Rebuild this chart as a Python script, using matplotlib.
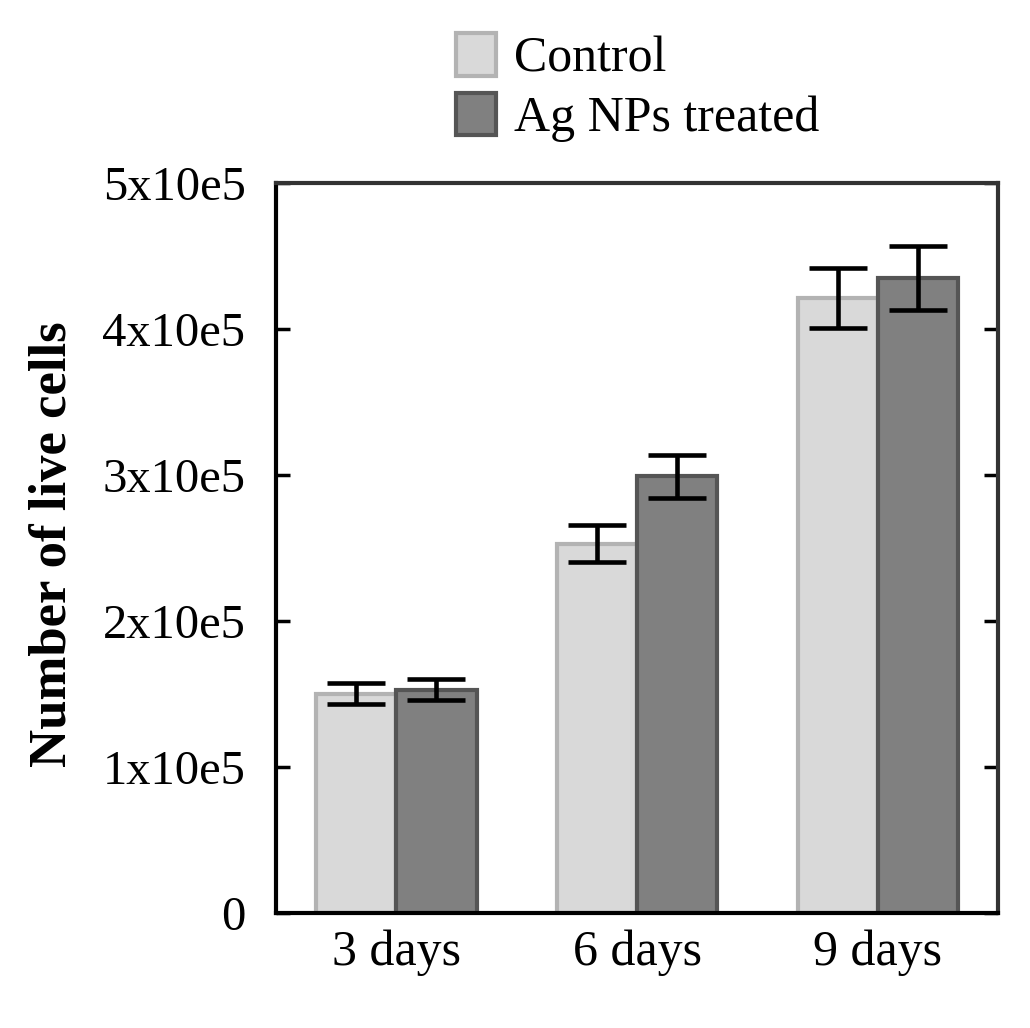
import numpy as np
import matplotlib.pyplot as plt
from matplotlib.patches import Patch

# data
days = ['3 days', '6 days', '9 days']
control = [150000, 253000, 421000]
control_err = [7200, 12700, 20500]
treated = [153000, 299000, 435000]
treated_err = [7500, 14700, 22000]
ytick_vals = [0, 100000, 200000, 300000, 400000, 500000]
ytick_labels = ['0', '1x10e5', '2x10e5', '3x10e5', '4x10e5', '5x10e5']

plt.rcParams['font.family'] = ['Liberation Serif', 'DejaVu Serif']

fig = plt.figure(figsize=(10.3, 10.28), dpi=100)
ax = fig.add_axes([0.268, 0.112, 0.701, 0.710])

x = np.arange(len(days))
w = 1 / 3

ax.bar(x - w / 2, control, w, color='#d9d9d9', edgecolor='#b3b3b3', linewidth=3, zorder=2)
ax.bar(x + w / 2, treated, w, color='#808080', edgecolor='#555555', linewidth=3, zorder=2)
ax.errorbar(x - w / 2, control, yerr=control_err, fmt='none', ecolor='black',
            elinewidth=3.3, capsize=21, capthick=3.3, zorder=3)
ax.errorbar(x + w / 2, treated, yerr=treated_err, fmt='none', ecolor='black',
            elinewidth=3.3, capsize=21, capthick=3.3, zorder=3)

ax.set_xlim(-0.5, 2.5)
ax.set_ylim(0, 500000)
ax.set_xticks(x)
ax.set_xticklabels(days, fontsize=36)
ax.set_yticks(ytick_vals)
ax.set_yticklabels(ytick_labels, fontsize=35)
ax.tick_params(axis='x', length=0, pad=12)
ax.tick_params(axis='y', direction='in', length=10, width=2.5, right=True, pad=22)

for side in ['left', 'bottom']:
    ax.spines[side].set_linewidth(3)
    ax.spines[side].set_color('black')
for side in ['right', 'top']:
    ax.spines[side].set_linewidth(3)
    ax.spines[side].set_color('#333333')

ax.set_ylabel('Number of live cells', fontsize=38, fontweight='bold')
ax.yaxis.set_label_coords(-0.275, 0.505)

handles = [Patch(facecolor='#d9d9d9', edgecolor='#b3b3b3', linewidth=3, label='Control'),
           Patch(facecolor='#808080', edgecolor='#555555', linewidth=3, label='Ag NPs treated')]
fig.legend(handles=handles, loc='upper left', bbox_to_anchor=(0.4235, 0.987),
           frameon=False, fontsize=36, handlelength=0.8, handleheight=0.92,
           handletextpad=0.35, labelspacing=0.2, borderaxespad=0)

fig.savefig('out.png', dpi=100)
